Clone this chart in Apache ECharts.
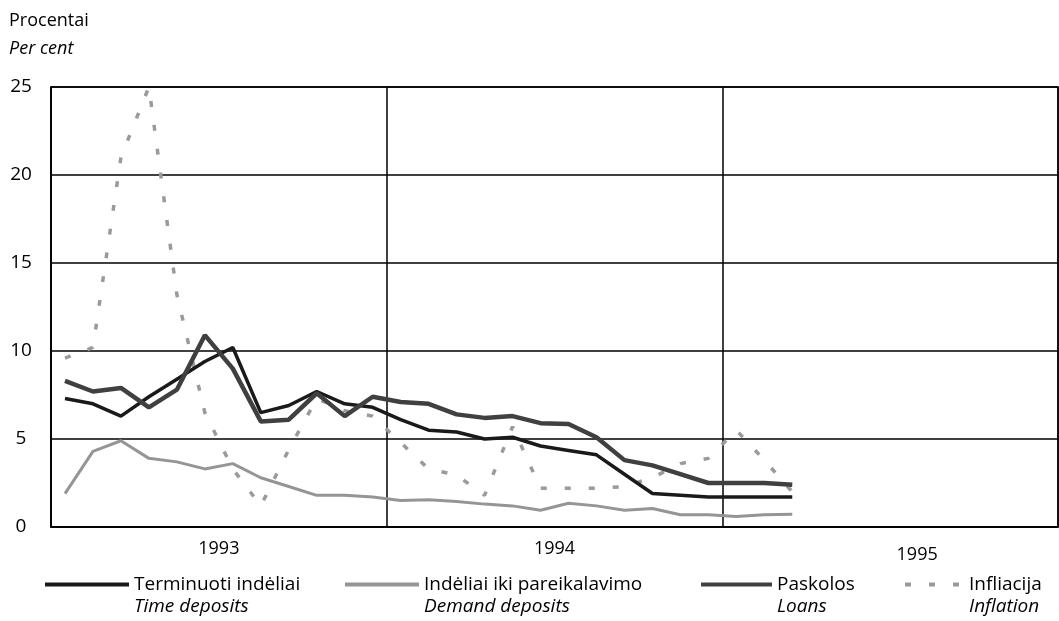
<!DOCTYPE html>
<html>
<head>
<meta charset="utf-8">
<script src="https://cdn.jsdelivr.net/npm/echarts@6/dist/echarts.min.js"></script>
<style>
  html, body { margin: 0; padding: 0; background: #fff; }
  #chart { width: 1059px; height: 621px; }
</style>
</head>
<body>
<div id="chart"></div>
<script>
// metai ir mėnesiai (x ašis)
const years = ['1993', '1994', '1995']
const months = years.flatMap(y => ['01','02','03','04','05','06','07','08','09','10','11','12'].map(m => y + '-' + m))

// mėnesinės palūkanų normos, %
const timeDeposits = [7.3, 7.0, 6.3, 7.4, 8.4, 9.4, 10.2, 6.5, 6.9, 7.7, 7.0, 6.8,
  6.1, 5.5, 5.4, 5.0, 5.1, 4.6, 4.35, 4.1, 3.0, 1.9, 1.8, 1.7, 1.7, 1.7, 1.7]
const demandDeposits = [1.9, 4.3, 4.9, 3.9, 3.7, 3.3, 3.6, 2.8, 2.3, 1.8, 1.8, 1.7,
  1.5, 1.55, 1.45, 1.3, 1.2, 0.95, 1.35, 1.2, 0.95, 1.05, 0.7, 0.7, 0.6, 0.7, 0.72]
const loans = [8.3, 7.7, 7.9, 6.8, 7.8, 10.9, 9.0, 6.0, 6.1, 7.6, 6.3, 7.4,
  7.1, 7.0, 6.4, 6.2, 6.3, 5.9, 5.85, 5.1, 3.8, 3.5, 3.0, 2.5, 2.5, 2.5, 2.4]
const inflation = [9.6, 10.2, 21, 25, 13.2, 6.5, 3.3, 1.2, 4.4, 7.3, 6.6, 6.3,
  4.8, 3.3, 2.95, 1.8, 5.7, 2.2, 2.2, 2.2, 2.3, 2.8, 3.6, 3.9, 5.5, 3.8, 2.0]

const names = [
  ['Terminuoti indėliai', 'Time deposits'],
  ['Indėliai iki pareikalavimo', 'Demand deposits'],
  ['Paskolos', 'Loans'],
  ['Infliacija', 'Inflation']
]

const font = 'Open Sans'
const chart = echarts.init(document.getElementById('chart'), null, { renderer: 'canvas' })

// legendos įrašas: dvi eilutės, ikona ties pirma eilute
function legendFor (idx, left, width) {
  return {
    data: [names[idx][0]],
    left: left,
    top: 570,
    itemWidth: width,
    itemHeight: 6,
    itemGap: 0,
    itemStyle: { opacity: 0 },
    lineStyle: { width: 4 },
    formatter: n => '{a|' + n + '}\n{b|' + names[idx][1] + '}',
    textStyle: {
      padding: [22, 0, 0, 0],
      rich: {
        a: { fontFamily: font, fontSize: 19, color: '#000', lineHeight: 22 },
        b: { fontFamily: font, fontSize: 19, color: '#000', fontStyle: 'italic', lineHeight: 22 }
      }
    }
  }
}

const option = {
  backgroundColor: '#fff',
  animation: false,
  title: {
    text: 'Procentai',
    subtext: 'Per cent',
    left: 4,
    top: 7,
    itemGap: 10,
    textStyle: { fontFamily: font, fontSize: 18, fontWeight: 'normal', color: '#000' },
    subtextStyle: { fontFamily: font, fontSize: 18, fontStyle: 'italic', color: '#000' }
  },
  grid: {
    left: 51, right: 1, top: 87, bottom: 94,
    show: true, borderColor: '#000', borderWidth: 1.5
  },
  legend: [
    legendFor(0, 38, 84),
    legendFor(1, 338, 74),
    legendFor(2, 694, 71),
    legendFor(3, 898, 59)
  ],
  xAxis: [
    {
      type: 'category',
      data: months,
      position: 'top',
      boundaryGap: true,
      show: false
    },
    {
      type: 'category',
      data: years,
      position: 'bottom',
      boundaryGap: true,
      axisLine: { show: true, lineStyle: { color: '#000', width: 1.5 } },
      axisTick: { show: false },
      splitLine: { show: true, interval: 0, lineStyle: { color: '#000', width: 1.5 } },
      axisLabel: {
        margin: 13,
        interval: 0,
        formatter: (v, i) => i === 2 ? '{s|' + v + '}' : '{n|' + v + '}',
        rich: {
          n: { fontFamily: font, fontSize: 18, color: '#000' },
          s: { fontFamily: font, fontSize: 18, color: '#000', padding: [6, 0, 0, 54] }
        }
      }
    }
  ],
  yAxis: {
    type: 'value',
    min: 0,
    max: 25,
    interval: 5,
    axisLine: { show: true, lineStyle: { color: '#000', width: 1.5 } },
    axisTick: { show: false },
    splitLine: { show: true, lineStyle: { color: '#000', width: 1.5 } },
    axisLabel: { fontFamily: font, fontSize: 19, color: '#000', margin: 30, align: 'center' }
  },
  series: [
    {
      name: names[0][0], type: 'line', data: timeDeposits, xAxisIndex: 0,
      symbol: 'none', z: 4,
      lineStyle: { color: '#1a1a1a', width: 3.5 },
      itemStyle: { color: '#1a1a1a' }
    },
    {
      name: names[1][0], type: 'line', data: demandDeposits, xAxisIndex: 0,
      symbol: 'none', z: 3,
      lineStyle: { color: '#959595', width: 3 },
      itemStyle: { color: '#959595' }
    },
    {
      name: names[2][0], type: 'line', data: loans, xAxisIndex: 0,
      symbol: 'none', z: 5,
      lineStyle: { color: '#404040', width: 4.5 },
      itemStyle: { color: '#404040' }
    },
    {
      name: names[3][0], type: 'line', data: inflation, xAxisIndex: 0,
      symbol: 'none', z: 2,
      lineStyle: { color: '#9a9a9a', width: 3.5, type: [6, 18] },
      itemStyle: { color: '#9a9a9a' }
    }
  ]
}

chart.setOption(option)
</script>
</body>
</html>
